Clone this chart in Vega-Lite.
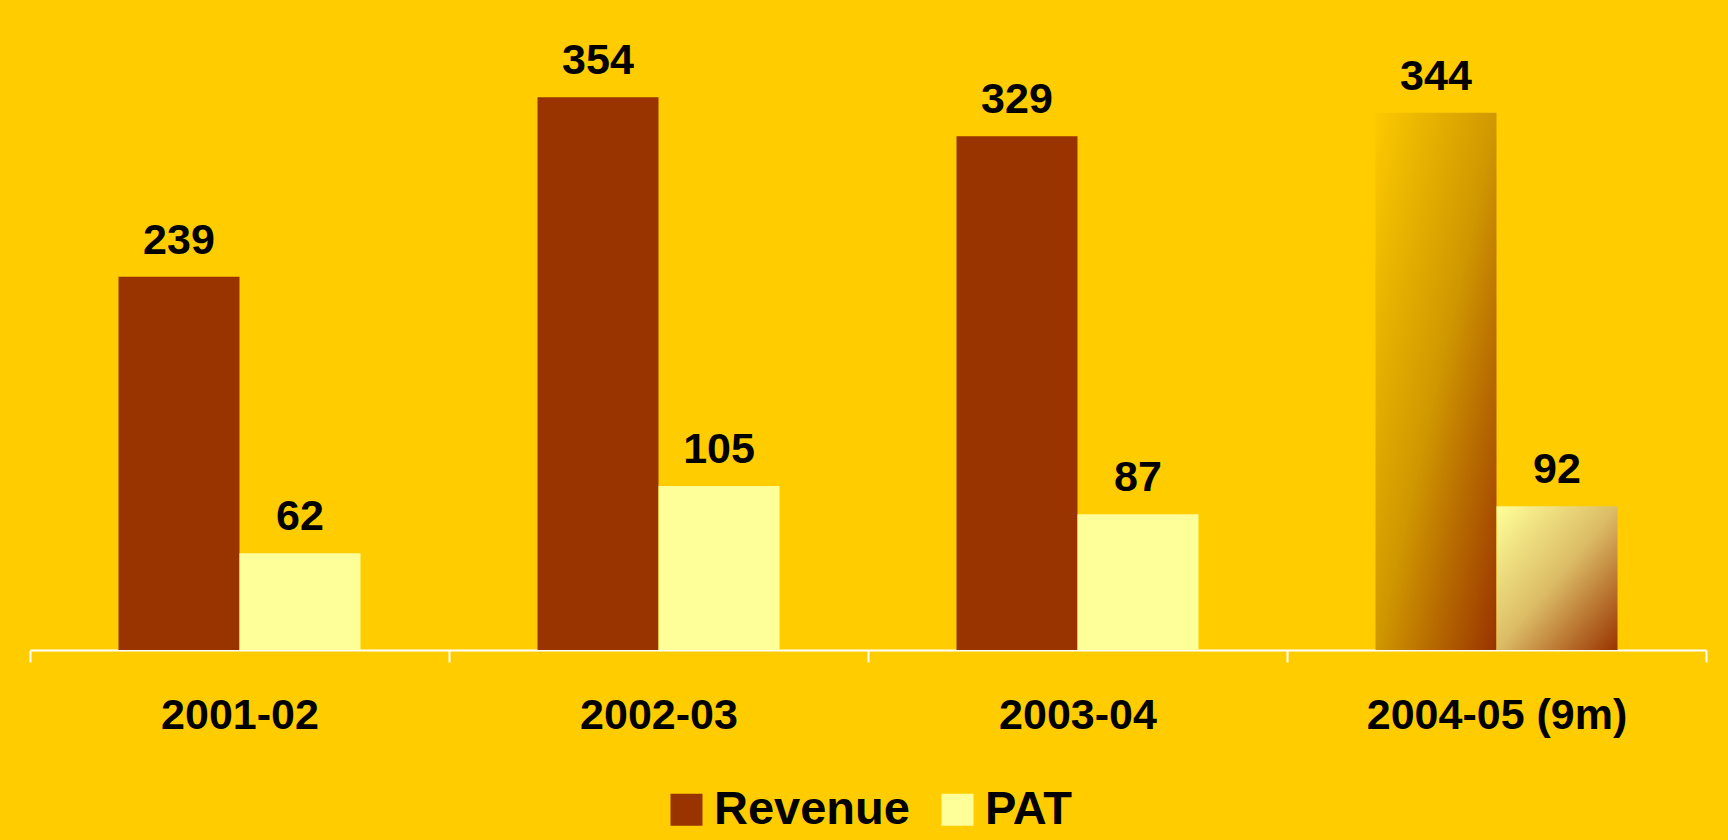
{
  "$schema": "https://vega.github.io/schema/vega-lite/v6.json",
  "autosize": {"type": "none"},
  "width": 1676,
  "height": 609,
  "padding": {"left": 30, "top": 41, "right": 22, "bottom": 190},
  "background": "#FFCC00",
  "config": {
    "view": {"stroke": null},
    "font": "Liberation Sans"
  },
  "data": {
    "values": [
      {"year": "2001-02", "series": "Revenue", "value": 239},
      {"year": "2001-02", "series": "PAT", "value": 62},
      {"year": "2002-03", "series": "Revenue", "value": 354},
      {"year": "2002-03", "series": "PAT", "value": 105},
      {"year": "2003-04", "series": "Revenue", "value": 329},
      {"year": "2003-04", "series": "PAT", "value": 87},
      {"year": "2004-05 (9m)", "series": "Revenue", "value": 344},
      {"year": "2004-05 (9m)", "series": "PAT", "value": 92}
    ]
  },
  "encoding": {
    "x": {
      "field": "year",
      "type": "nominal",
      "sort": null,
      "scale": {"paddingInner": 0, "paddingOuter": 0},
      "axis": {
        "title": null,
        "labelAngle": 0,
        "labelFontSize": 43,
        "labelFontWeight": "bold",
        "labelColor": "#000000",
        "labelBaseline": "alphabetic",
        "labelPadding": 66,
        "labelLimit": 500,
        "domainColor": "#FFFFFF",
        "domainWidth": 2,
        "tickColor": "#FFFFFF",
        "tickWidth": 2,
        "tickSize": 12,
        "tickBand": "extent",
        "grid": false
      }
    },
    "xOffset": {
      "field": "series",
      "type": "nominal",
      "sort": ["Revenue", "PAT"],
      "scale": {"paddingInner": 0, "paddingOuter": 0.7314}
    },
    "y": {
      "field": "value",
      "type": "quantitative",
      "scale": {"domain": [0, 390], "nice": false, "zero": true},
      "axis": null
    }
  },
  "layer": [
    {
      "mark": {"type": "bar", "strokeWidth": 0},
      "encoding": {
        "fill": {
          "field": "series",
          "type": "nominal",
          "scale": {"domain": ["Revenue", "PAT"], "range": ["#993300", "#FFFF99"]},
          "condition": [
            {
              "test": "datum.year === '2004-05 (9m)' && datum.series === 'Revenue'",
              "value": {
                "gradient": "linear", "x1": 0, "y1": 0, "x2": 1, "y2": 1,
                "stops": [
                  {"offset": 0, "color": "#FCC900"},
                  {"offset": 0.5, "color": "#D09800"},
                  {"offset": 1, "color": "#993300"}
                ]
              }
            },
            {
              "test": "datum.year === '2004-05 (9m)' && datum.series === 'PAT'",
              "value": {
                "gradient": "linear", "x1": 0, "y1": 0, "x2": 1, "y2": 1,
                "stops": [
                  {"offset": 0, "color": "#FFFF99"},
                  {"offset": 0.5, "color": "#DCBC66"},
                  {"offset": 1, "color": "#993300"}
                ]
              }
            }
          ],
          "legend": {
            "title": null,
            "orient": "none",
            "direction": "horizontal",
            "legendX": 633,
            "legendY": 745,
            "padding": 0,
            "symbolType": "square",
            "symbolSize": 1024,
            "symbolStrokeWidth": 0,
            "symbolOpacity": 1,
            "labelFontSize": 47,
            "labelFontWeight": "bold",
            "labelColor": "#000000",
            "labelOffset": 4,
            "columnPadding": 24,
            "labelLimit": 400
          }
        }
      }
    },
    {
      "mark": {
        "type": "text",
        "baseline": "alphabetic",
        "align": "center",
        "dy": -23,
        "fontSize": 43,
        "fontWeight": "bold",
        "color": "#000000"
      },
      "encoding": {
        "text": {"field": "value", "type": "quantitative"}
      }
    }
  ]
}
